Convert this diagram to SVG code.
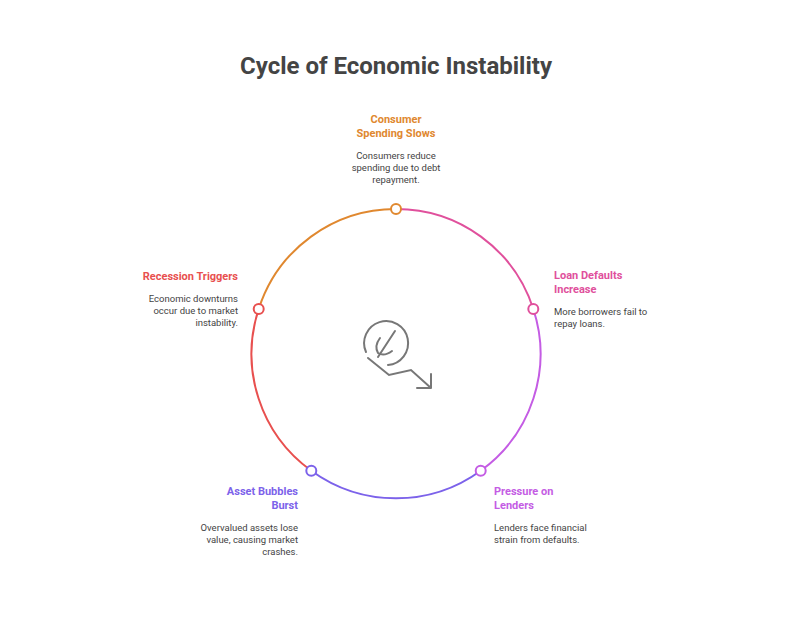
<svg xmlns="http://www.w3.org/2000/svg" width="792" height="636" viewBox="0 0 792 636">
<style>
text{font-family:Roboto,"Liberation Sans",sans-serif}
.t{font-size:24px;font-weight:bold;fill:#444}
.h{font-size:11px;font-weight:bold}
.d{font-size:9.5px;fill:#444}
.arc{fill:none;stroke-width:2}
.dot{fill:#fff;stroke-width:2}
.ic{fill:none;stroke:#777;stroke-width:2;stroke-linecap:round}
</style>
<rect width="792" height="636" fill="#fff"/>
<text class="t" x="396" y="74" text-anchor="middle">Cycle of Economic Instability</text>
<g id="connectors">
<path class="arc" stroke="#e0509c" d="M396 209 A144 144 0 0 1 533.3 309"/>
<path class="arc" stroke="#c45ce4" d="M533.3 309 A144 144 0 0 1 480.7 470.7"/>
<path class="arc" stroke="#7c62ea" d="M480.7 470.7 A144 144 0 0 1 311.3 470.7"/>
<path class="arc" stroke="#e8504f" d="M311.3 470.7 A144 144 0 0 1 258.7 309"/>
<path class="arc" stroke="#e0882f" d="M258.7 309 A144 144 0 0 1 396 209"/>
</g>
<g id="icon">
<path class="ic" d="M366 352 A22 22 0 1 1 388 365"/>
<path class="ic" d="M395 331 L378 357"/>
<path class="ic" d="M392 351 Q384 357 378 353 Q374 346 380 338"/>
<path class="ic" d="M368 358 L389 375 L411 370 L431 388 M431 388 L417 388 M431 388 L431 374"/>
</g>
<g id="n1">
<circle class="dot" stroke="#e0882f" cx="396" cy="209" r="5"/>
<text class="h" fill="#e0882f" x="396" y="123" text-anchor="middle">Consumer</text>
<text class="h" fill="#e0882f" x="396" y="137" text-anchor="middle">Spending Slows</text>
<text class="d" x="396" y="159" text-anchor="middle">Consumers reduce</text>
<text class="d" x="396" y="171" text-anchor="middle">spending due to debt</text>
<text class="d" x="396" y="183" text-anchor="middle">repayment.</text>
</g>
<g id="n2">
<circle class="dot" stroke="#e0509c" cx="533.3" cy="309" r="5"/>
<text class="h" fill="#e0509c" x="554" y="279">Loan Defaults</text>
<text class="h" fill="#e0509c" x="554" y="293">Increase</text>
<text class="d" x="554" y="315">More borrowers fail to</text>
<text class="d" x="554" y="327">repay loans.</text>
</g>
<g id="n3">
<circle class="dot" stroke="#c45ce4" cx="480.7" cy="470.7" r="5"/>
<text class="h" fill="#c45ce4" x="494" y="495">Pressure on</text>
<text class="h" fill="#c45ce4" x="494" y="509">Lenders</text>
<text class="d" x="494" y="531">Lenders face financial</text>
<text class="d" x="494" y="543">strain from defaults.</text>
</g>
<g id="n4">
<circle class="dot" stroke="#7c62ea" cx="311.3" cy="470.7" r="5"/>
<text class="h" fill="#7c62ea" x="298" y="495" text-anchor="end">Asset Bubbles</text>
<text class="h" fill="#7c62ea" x="298" y="509" text-anchor="end">Burst</text>
<text class="d" x="298" y="531" text-anchor="end">Overvalued assets lose</text>
<text class="d" x="298" y="543" text-anchor="end">value, causing market</text>
<text class="d" x="298" y="555" text-anchor="end">crashes.</text>
</g>
<g id="n5">
<circle class="dot" stroke="#e8504f" cx="258.7" cy="309" r="5"/>
<text class="h" fill="#e8504f" x="238" y="280" text-anchor="end">Recession Triggers</text>
<text class="d" x="238" y="302" text-anchor="end">Economic downturns</text>
<text class="d" x="238" y="314" text-anchor="end">occur due to market</text>
<text class="d" x="238" y="326" text-anchor="end">instability.</text>
</g>
</svg>
